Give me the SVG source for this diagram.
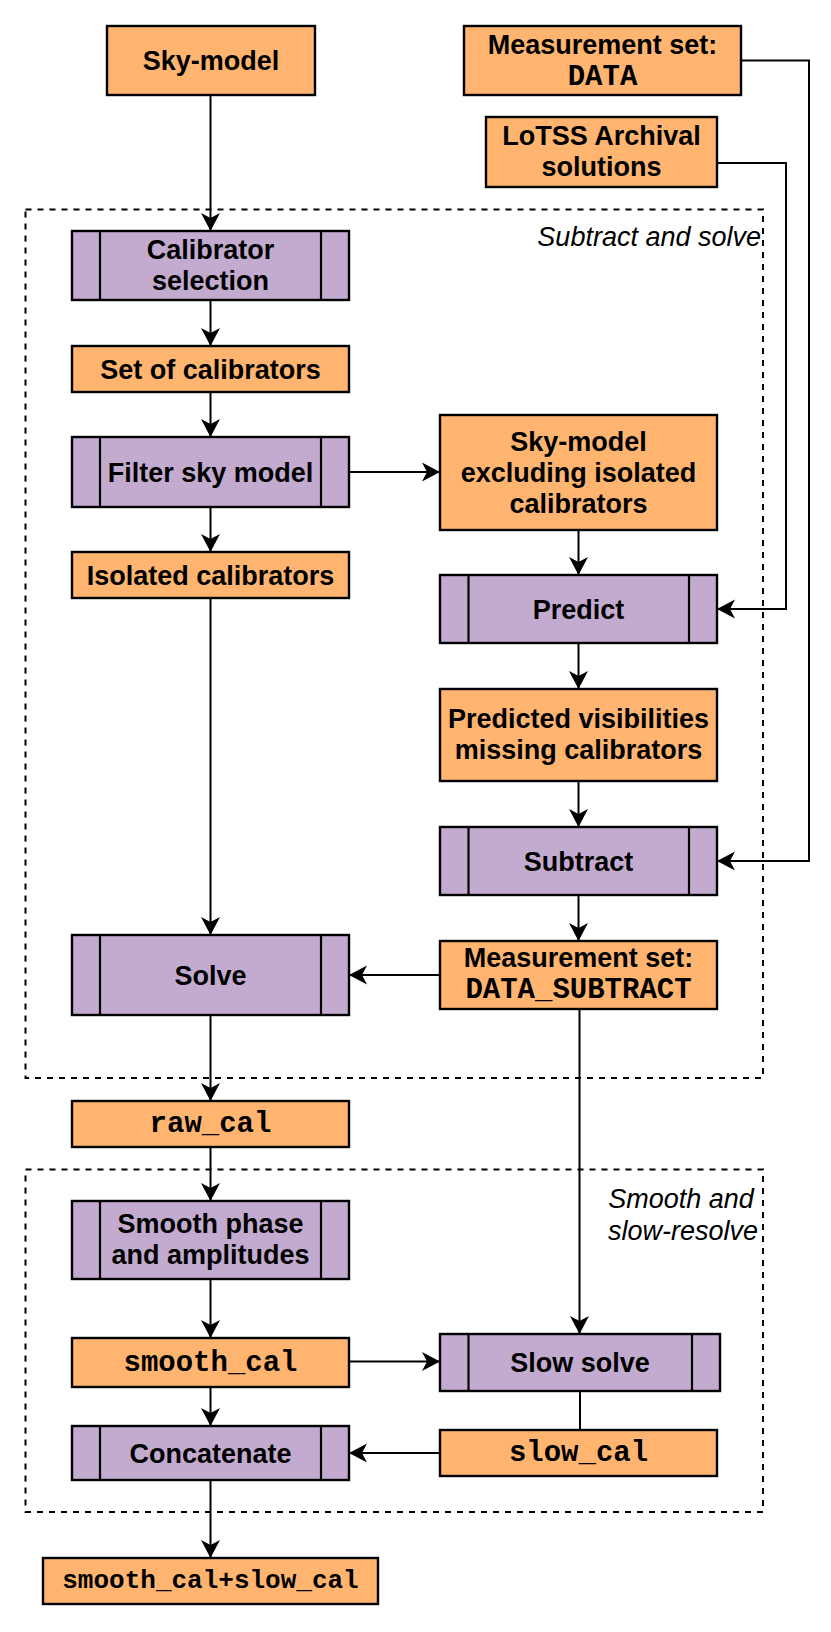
<svg xmlns="http://www.w3.org/2000/svg" width="831" height="1632" viewBox="0 0 831 1632">
<defs>
<marker id="arr" markerUnits="userSpaceOnUse" markerWidth="20" markerHeight="20" viewBox="-18 -10 20 20" refX="0" refY="0" orient="auto">
<path d="M-18,-9.5 L0,0 L-18,9.5 L-13,0 Z" fill="#000"/>
</marker>
</defs>
<style>
.o{fill:#FFB570;stroke:#000;stroke-width:2.4}
.p{fill:#C3ABD0;stroke:#000;stroke-width:2.4}
.v{stroke:#000;stroke-width:2.2;fill:none}
.c{fill:none;stroke:#000;stroke-width:2}
.a{marker-end:url(#arr)}
.d{fill:none;stroke:#000;stroke-width:2;stroke-dasharray:6 6}
.t{font-family:"Liberation Sans",Arial,Helvetica,sans-serif;font-weight:bold;font-size:27px;fill:#000;text-anchor:middle}
.m{font-family:"Liberation Mono","Courier New",monospace;font-weight:bold;font-size:29px;fill:#000;text-anchor:middle}
.i{font-family:"Liberation Sans",Arial,Helvetica,sans-serif;font-style:italic;font-size:27px;fill:#000}
</style>

<g id="group-subtract-solve">
<rect class="d" x="25.5" y="209.5" width="737.5" height="868.5"/>
<text class="i" x="761" y="246" text-anchor="end">Subtract and solve</text>
</g>
<g id="group-smooth">
<rect class="d" x="25.5" y="1169.5" width="737.5" height="342.5"/>
<text class="i" x="681" y="1208" text-anchor="middle">Smooth and</text>
<text class="i" x="683" y="1240" text-anchor="middle">slow-resolve</text>
</g>

<g id="connectors">
<path class="c a" d="M210.5,95 V231"/>
<path class="c a" d="M210.5,300 V346"/>
<path class="c a" d="M210.5,392 V437"/>
<path class="c a" d="M210.5,507 V552"/>
<path class="c a" d="M349,472 H440"/>
<path class="c a" d="M578.5,530 V575"/>
<path class="c a" d="M717,163 H786 V609 H717"/>
<path class="c a" d="M741,60.5 H809 V861 H717"/>
<path class="c a" d="M578.5,643 V689"/>
<path class="c a" d="M578.5,781 V827"/>
<path class="c a" d="M578.5,895 V941"/>
<path class="c a" d="M210.5,598 V935"/>
<path class="c a" d="M440,975 H349"/>
<path class="c a" d="M210.5,1015 V1101"/>
<path class="c a" d="M210.5,1147 V1201"/>
<path class="c a" d="M579.5,1009 V1334"/>
<path class="c a" d="M210.5,1279 V1338"/>
<path class="c a" d="M349,1361.5 H440"/>
<path class="c a" d="M210.5,1387 V1426"/>
<path class="c" d="M580,1391 V1430"/>
<path class="c a" d="M440,1453 H349"/>
<path class="c a" d="M210.5,1480 V1558"/>
</g>

<g id="sky-model">
<rect class="o" x="107" y="26" width="208" height="69"/>
<text class="t" x="211" y="70">Sky-model</text>
</g>
<g id="ms-data">
<rect class="o" x="464" y="26" width="277" height="69"/>
<text class="t" x="602.5" y="53.5">Measurement set:</text>
<text class="m" x="602.5" y="84.5">DATA</text>
</g>
<g id="lotss">
<rect class="o" x="486" y="117" width="231" height="70"/>
<text class="t" x="601.5" y="145">LoTSS Archival</text>
<text class="t" x="601.5" y="176">solutions</text>
</g>
<g id="calibrator-selection">
<rect class="p" x="72" y="231" width="277" height="69"/>
<path class="v" d="M100,231 V300 M321,231 V300"/>
<text class="t" x="210.5" y="258.5">Calibrator</text>
<text class="t" x="210.5" y="289.5">selection</text>
</g>
<g id="set-of-calibrators">
<rect class="o" x="72" y="346" width="277" height="46"/>
<text class="t" x="210.5" y="378.5">Set of calibrators</text>
</g>
<g id="filter-sky-model">
<rect class="p" x="72" y="437" width="277" height="70"/>
<path class="v" d="M100,437 V507 M321,437 V507"/>
<text class="t" x="210.5" y="481.5">Filter sky model</text>
</g>
<g id="sky-model-excluding">
<rect class="o" x="440" y="415" width="277" height="115"/>
<text class="t" x="578.5" y="450.5">Sky-model</text>
<text class="t" x="578.5" y="481.5">excluding isolated</text>
<text class="t" x="578.5" y="512.5">calibrators</text>
</g>
<g id="isolated-calibrators">
<rect class="o" x="72" y="552" width="277" height="46"/>
<text class="t" x="210.5" y="584.5">Isolated calibrators</text>
</g>
<g id="predict">
<rect class="p" x="440" y="575" width="277" height="68"/>
<path class="v" d="M468.5,575 V643 M689,575 V643"/>
<text class="t" x="578.5" y="618.5">Predict</text>
</g>
<g id="predicted-visibilities">
<rect class="o" x="440" y="689" width="277" height="92"/>
<text class="t" x="578.5" y="728">Predicted visibilities</text>
<text class="t" x="578.5" y="759">missing calibrators</text>
</g>
<g id="subtract">
<rect class="p" x="440" y="827" width="277" height="68"/>
<path class="v" d="M468.5,827 V895 M689,827 V895"/>
<text class="t" x="578.5" y="870.5">Subtract</text>
</g>
<g id="ms-data-subtract">
<rect class="o" x="440" y="941" width="277" height="68"/>
<text class="t" x="578.5" y="967">Measurement set:</text>
<text class="m" x="578.5" y="998">DATA_SUBTRACT</text>
</g>
<g id="solve">
<rect class="p" x="72" y="935" width="277" height="80"/>
<path class="v" d="M100,935 V1015 M321,935 V1015"/>
<text class="t" x="210.5" y="984.5">Solve</text>
</g>
<g id="raw-cal">
<rect class="o" x="72" y="1101" width="277" height="46"/>
<text class="m" x="210.5" y="1132">raw_cal</text>
</g>
<g id="smooth-phase">
<rect class="p" x="72" y="1201" width="277" height="78"/>
<path class="v" d="M100,1201 V1279 M321,1201 V1279"/>
<text class="t" x="210.5" y="1233">Smooth phase</text>
<text class="t" x="210.5" y="1264">and amplitudes</text>
</g>
<g id="smooth-cal">
<rect class="o" x="72" y="1338" width="277" height="49"/>
<text class="m" x="210.5" y="1370.5">smooth_cal</text>
</g>
<g id="slow-solve">
<rect class="p" x="440" y="1334" width="280" height="57"/>
<path class="v" d="M468.5,1334 V1391 M692,1334 V1391"/>
<text class="t" x="580" y="1372">Slow solve</text>
</g>
<g id="concatenate">
<rect class="p" x="72" y="1426" width="277" height="54"/>
<path class="v" d="M100,1426 V1480 M321,1426 V1480"/>
<text class="t" x="210.5" y="1462.5">Concatenate</text>
</g>
<g id="slow-cal">
<rect class="o" x="440" y="1430" width="277" height="46"/>
<text class="m" x="578.5" y="1461">slow_cal</text>
</g>
<g id="smooth-slow-cal">
<rect class="o" x="43" y="1558" width="335" height="46"/>
<text class="m" x="210.5" y="1588" style="font-size:26px">smooth_cal+slow_cal</text>
</g>
</svg>
